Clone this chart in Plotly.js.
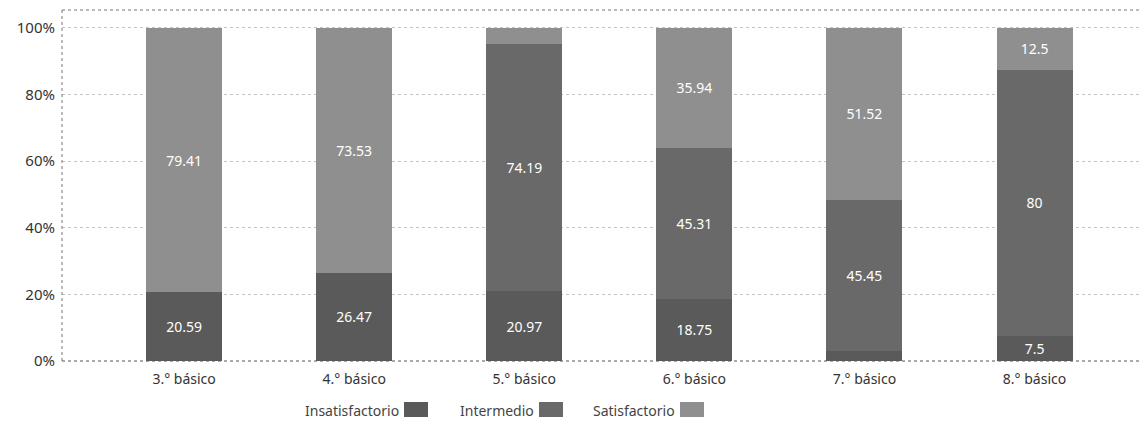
<!DOCTYPE html>
<html>
<head>
<meta charset="utf-8">
<script src="https://cdn.plot.ly/plotly-3.0.1.min.js"></script>
<style>html,body{margin:0;padding:0;background:#fff;}#chart{width:1142px;height:430px;}</style>
</head>
<body>
<div id="chart"></div>
<script>
// ---- data ----
const categories = ["3.° básico", "4.° básico", "5.° básico", "6.° básico", "7.° básico", "8.° básico"];
const seriesNames = ["Insatisfactorio", "Intermedio", "Satisfactorio"];
const insatisfactorio = [20.59, 26.47, 20.97, 18.75, 3.03, 7.5];
const intermedio = [0, 0, 74.19, 45.31, 45.45, 80];
const satisfactorio = [79.41, 73.53, 4.84, 35.94, 51.52, 12.5];
const yTickVals = [0, 20, 40, 60, 80, 100];
const yTickText = ["0%", "20%", "40%", "60%", "80%", "100%"];

// ---- style ----
const colors = ["#5a5a5a", "#696969", "#8f8f8f"];
const font = "'Noto Sans', 'Open Sans', sans-serif";
const W = 1142, H = 430;
const margin = {l: 62, r: 2, t: 10, b: 69};
const plotW = W - margin.l - margin.r;
const plotH = H - margin.t - margin.b;
const px2paperX = px => (px - margin.l) / plotW;
const px2paperY = py => (H - margin.b - py) / plotH;

const seriesValues = [insatisfactorio, intermedio, satisfactorio];
const traces = seriesNames.map((name, i) => ({
  type: "bar",
  name: name,
  x: categories,
  y: seriesValues[i],
  text: seriesValues[i].map(v => String(v)),
  texttemplate: "%{text}",
  marker: {color: colors[i], line: {width: 0}},
  width: 0.447,
  textposition: "inside",
  insidetextanchor: "middle",
  textangle: 0,
  textfont: {color: "#ffffff", size: 14, family: font},
  showlegend: false,
  hoverinfo: "skip"
}));

// custom legend: text followed by swatch
const legendItems = [
  {textRight: 401, swLeft: 404},
  {textRight: 536, swLeft: 539},
  {textRight: 677, swLeft: 680}
];
const legendY = 410;
const annotations = seriesNames.map((name, i) => ({
  xref: "paper", yref: "paper",
  x: px2paperX(legendItems[i].textRight), y: px2paperY(legendY),
  xanchor: "right", yanchor: "middle",
  text: name, showarrow: false,
  font: {family: font, size: 14, color: "#444"}
}));
const shapes = seriesNames.map((name, i) => ({
  type: "rect", xref: "paper", yref: "paper",
  x0: px2paperX(legendItems[i].swLeft), x1: px2paperX(legendItems[i].swLeft + 24),
  y0: px2paperY(legendY + 7), y1: px2paperY(legendY - 8),
  fillcolor: colors[i], line: {width: 0}
}));
// dotted frame (top, left, bottom)
const frameLine = {color: "#777", width: 1, dash: "dot"};
shapes.push(
  {type: "line", xref: "paper", yref: "paper", x0: 0, x1: 1, y0: 1, y1: 1, line: frameLine},
  {type: "line", xref: "paper", yref: "paper", x0: 0, x1: 0, y0: 0, y1: 1, line: frameLine},
  {type: "line", xref: "paper", yref: "paper", x0: 0, x1: 1, y0: 0, y1: 0, line: {color: "#555", width: 1, dash: "dot"}}
);

const layout = {
  width: W, height: H,
  margin: margin,
  paper_bgcolor: "#fff", plot_bgcolor: "#fff",
  barmode: "stack",
  hovermode: false,
  showlegend: false,
  uniformtext: {mode: "hide", minsize: 12},
  font: {family: font, color: "#333"},
  xaxis: {
    type: "category",
    range: [-0.718, 5.62],
    showgrid: false, zeroline: false, showline: false,
    ticks: "", ticklabelstandoff: 8,
    tickfont: {family: font, size: 14, color: "#333"}
  },
  yaxis: {
    range: [0, 105.4],
    tickmode: "array",
    tickvals: yTickVals,
    ticktext: yTickText,
    showgrid: true, gridcolor: "#c4c4c4", griddash: "dot", gridwidth: 1,
    zeroline: false, showline: false,
    ticks: "", ticklabelstandoff: 6,
    tickfont: {family: font, size: 15, color: "#333"}
  },
  annotations: annotations,
  shapes: shapes
};

Plotly.newPlot("chart", traces, layout, {displayModeBar: false, staticPlot: true});
</script>
</body>
</html>
